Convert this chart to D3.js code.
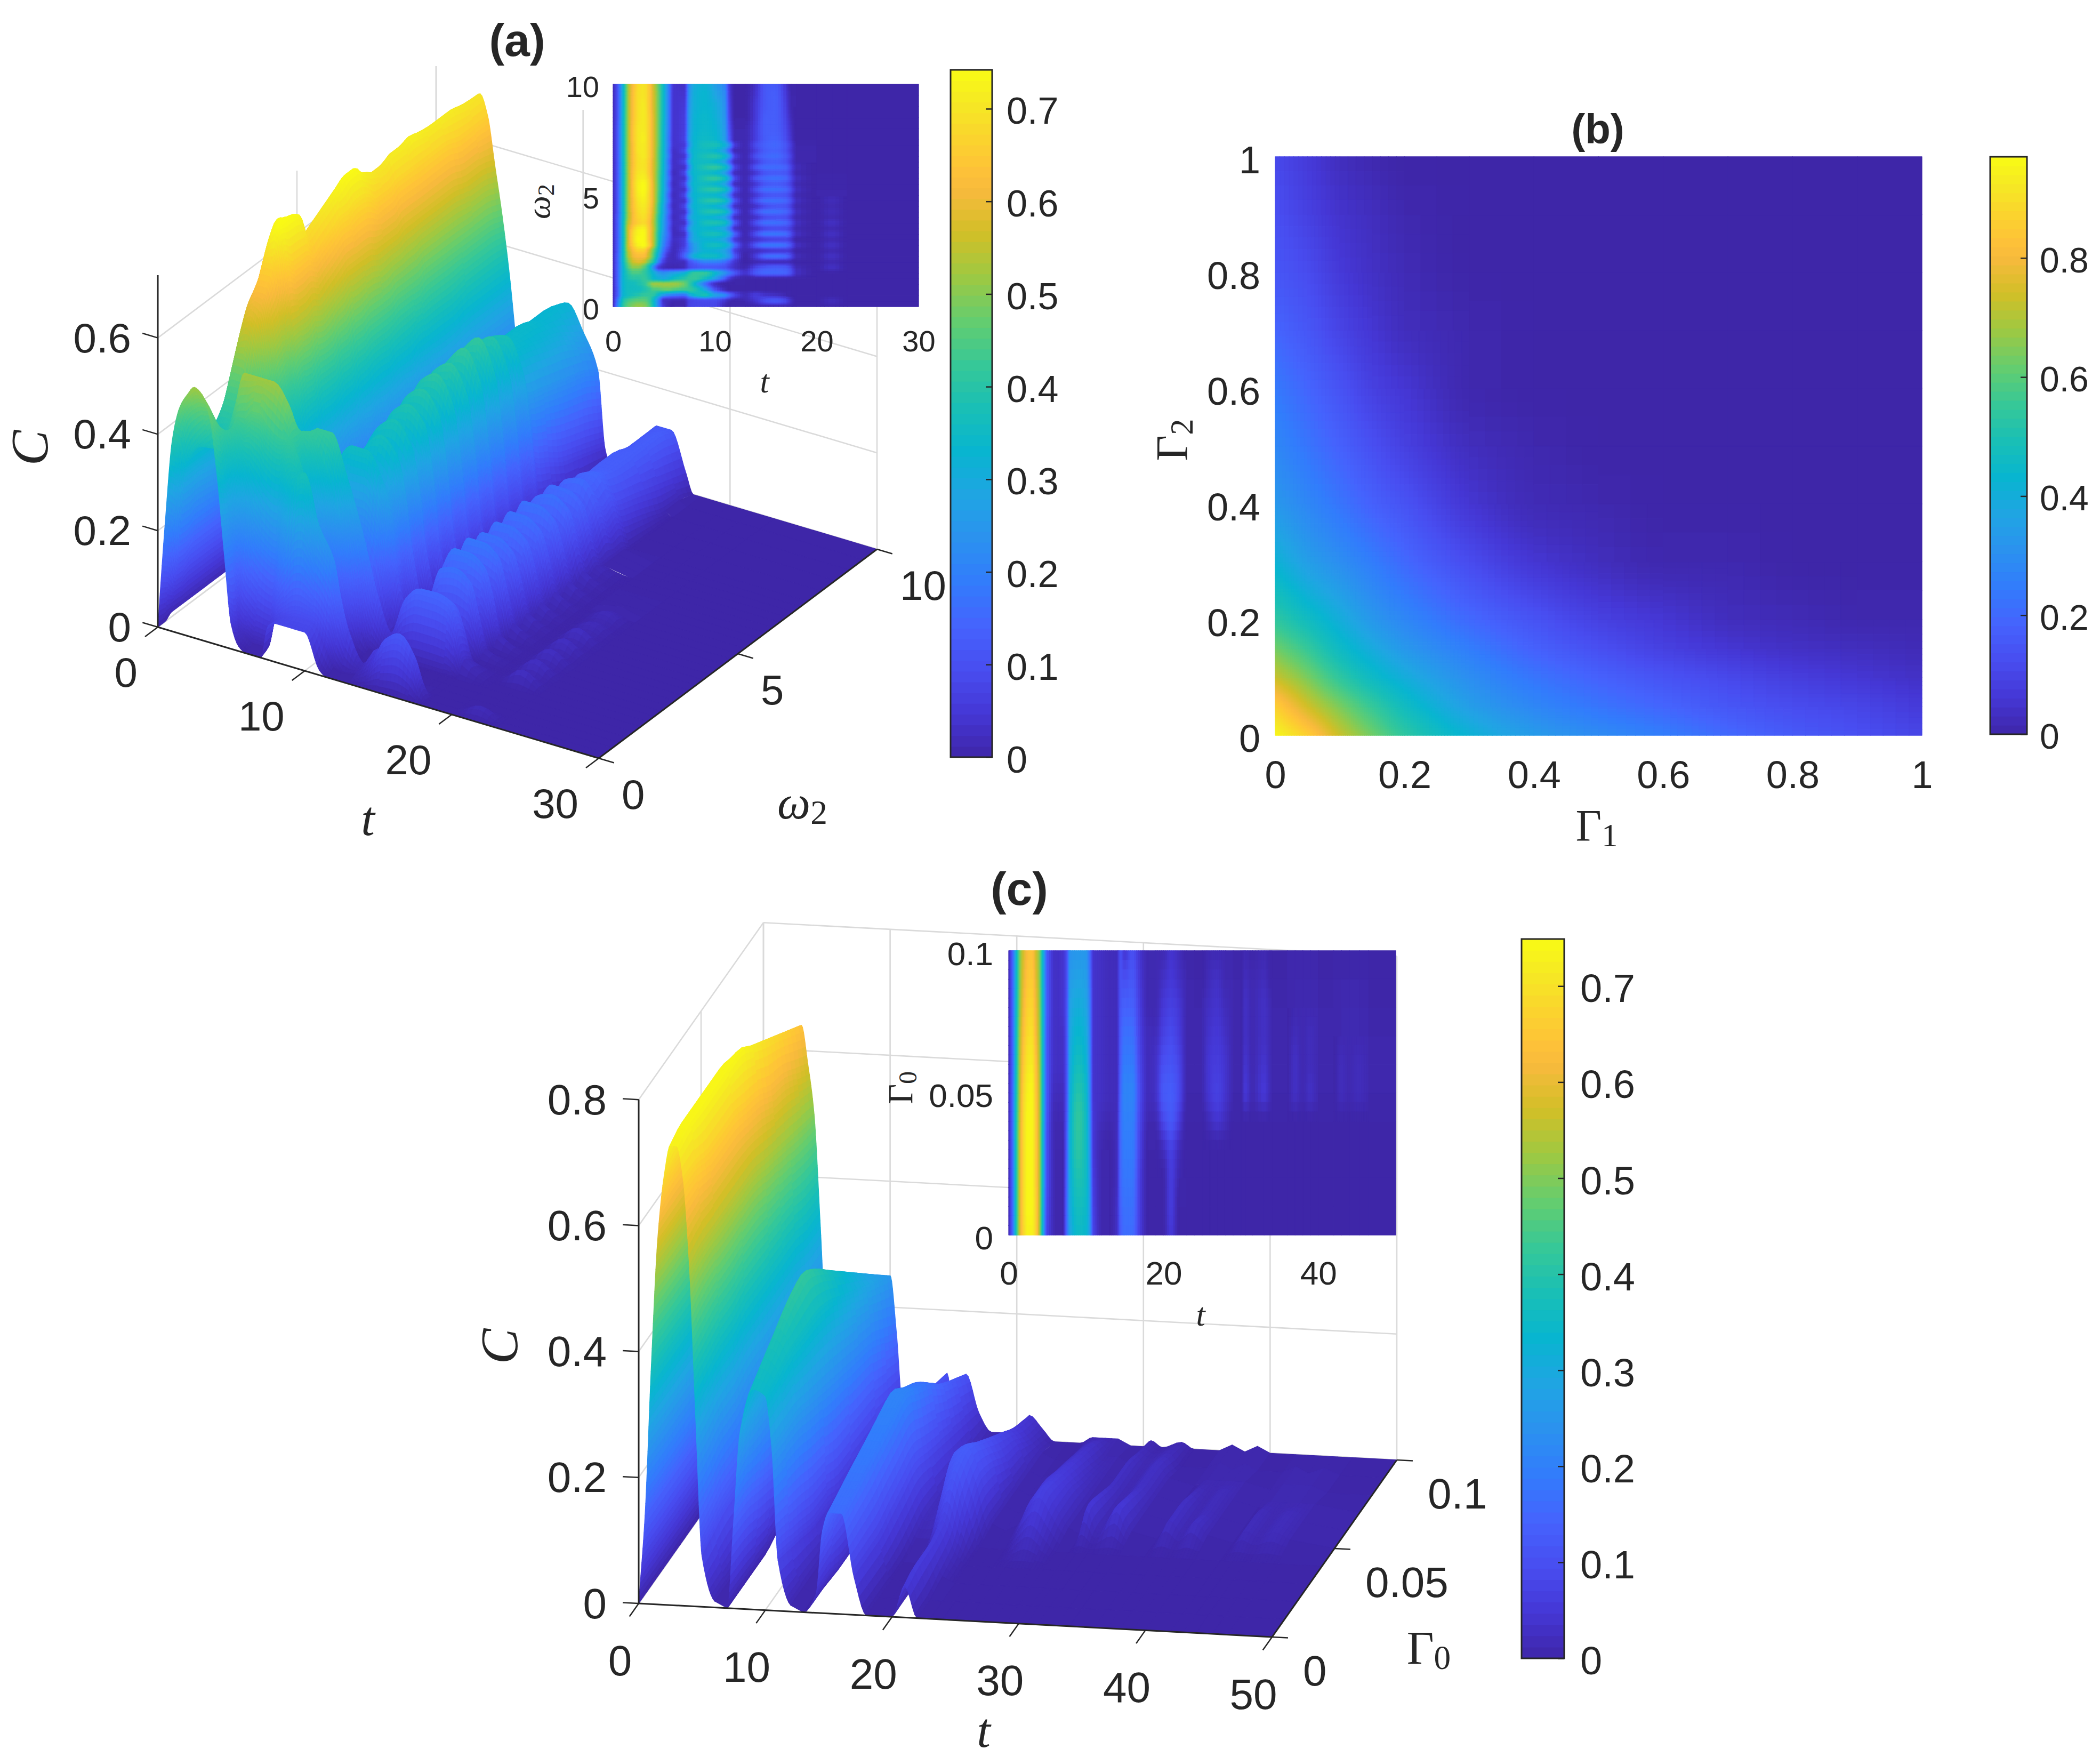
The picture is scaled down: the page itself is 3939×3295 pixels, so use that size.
<!DOCTYPE html>
<html><head><meta charset="utf-8"><style>html,body{margin:0;padding:0;background:#fff}svg{display:block}text{font-family:"Liberation Sans",Arial,sans-serif;fill:#262626}</style>
<script src="https://cdn.jsdelivr.net/npm/d3@7"></script></head><body><div id="c"></div>
<script>
// ---------- DATA (C values in hundredths) ----------
const tA=[0,.5,1,1.5,2,2.5,3,3.5,4,4.5,5,5.5,6,7,7.5,8,9,10,11,11.5,12,13,14,15,16,17,17.5,18,20,21.5,23,30];
const wA=[0,.25,.5,.75,1,1.25,1.5,1.75,2,2.25,2.5,2.75,3,3.25,3.5,3.75,4,4.25,4.5,4.75,5,5.25,5.5,5.75,6,6.25,6.5,6.75,7,7.25,7.5,8,8.5,9,9.5,10];
const cA=[
[0,22,40,47,50,52,51,47,36,20,5,1,0,0,7,8,8,8,1,0,0,0,0,0,0,0,0,0],
[0,20,38,44,46,47,47,44,34,20,3,2,1,1,7,8,9,9,4,1,0,1,4,10,12,8,3,0],
[1,14,32,36,38,40,42,42,40,32,24,20,18,16,26,32,38,28,22,14,8,2,6,4,3,1,0,0],
[1,14,32,36,36,36,38,40,44,44,46,46,44,42,42,40,30,12,2,0,0,0,0,0,0,0,0,0],
[1,15,32,36,36,38,40,46,52,52,52,52,52,48,42,34,18,3,0,0,0,0,0,0,0,0,0,0],
[1,15,32,38,40,40,42,40,34,32,30,32,36,40,42,42,36,26,12,4,1,0,0,0,0,0,0,0],
[1,15,32,40,44,44,42,38,32,26,24,26,28,32,38,42,42,34,24,18,12,4,12,15,15,14,10,3],
[1,15,32,44,50,50,46,38,22,6,2,1,1,2,8,10,12,12,10,6,3,1,8,12,13,12,8,2],
[1,15,34,48,56,58,56,48,38,20,6,2,2,2,10,14,20,20,16,10,4,0,1,2,2,2,1,0],
[1,15,34,52,60,62,62,56,44,28,12,3,2,14,24,32,36,36,30,24,12,0,6,16,17,15,9,2],
[1,14,34,54,62,66,66,58,46,32,16,6,2,10,18,26,32,31,27,20,6,1,2,4,5,5,3,0],
[1,14,34,56,66,72,74,68,54,36,20,10,2,6,18,26,34,37,34,28,16,2,12,18,18,16,11,3],
[1,14,34,56,68,74,74,66,54,38,22,12,3,6,22,30,32,31,27,18,5,1,3,6,7,7,4,0],
[1,14,34,56,68,73,74,66,54,38,24,14,2,3,20,30,36,38,34,27,14,1,10,18,18,16,10,3],
[1,14,34,56,66,72,73,66,55,40,26,12,2,8,26,32,33,31,27,17,3,1,3,8,9,8,5,1],
[1,14,34,54,62,66,68,64,54,40,26,14,3,3,20,30,37,39,36,27,12,1,10,17,17,15,10,3],
[1,14,33,52,62,67,69,65,55,40,27,12,2,7,26,32,33,31,27,17,3,1,3,9,10,9,5,1],
[1,13,33,52,62,68,70,66,56,42,28,15,3,3,20,31,38,40,36,27,12,1,10,17,17,15,10,3],
[1,13,33,52,63,69,71,67,57,42,28,12,2,8,26,33,34,32,27,16,3,1,3,9,11,10,6,1],
[1,13,33,52,63,70,72,68,58,44,30,16,3,3,20,32,39,41,36,26,11,1,10,17,17,15,10,3],
[1,13,33,52,64,71,73,68,58,44,30,13,2,8,27,33,34,33,27,16,3,1,4,10,11,10,6,1],
[1,13,33,52,64,72,74,69,58,45,31,17,3,3,20,33,39,41,36,26,10,1,10,17,17,15,10,3],
[1,13,33,52,65,72,74,69,58,45,31,14,2,8,27,34,35,33,27,15,2,1,4,11,12,10,6,1],
[1,13,33,52,64,71,72,68,57,45,31,18,3,3,21,33,39,42,36,25,9,1,11,16,17,15,9,3],
[1,13,33,52,64,70,71,66,57,45,32,15,2,8,28,34,35,33,26,14,2,1,4,11,12,11,6,1],
[1,13,33,52,63,69,70,66,57,46,32,18,3,3,21,34,39,42,36,25,8,1,11,16,16,14,8,2],
[1,13,33,52,63,69,70,66,57,46,32,16,3,8,28,35,35,33,26,13,2,1,5,12,13,10,5,1],
[1,13,33,52,63,69,71,67,58,46,33,19,3,4,22,34,38,40,34,24,7,1,10,15,16,12,7,1],
[1,13,33,52,63,70,71,67,58,46,33,17,3,8,28,34,35,33,25,12,1,1,6,13,14,10,5,1],
[1,13,33,52,63,70,71,67,58,47,33,19,4,5,23,33,37,38,32,22,6,1,9,14,15,11,6,1],
[1,13,33,52,64,70,72,67,58,47,33,18,4,7,26,33,35,34,26,11,1,1,6,13,14,9,4,0],
[1,13,33,52,64,70,71,67,58,47,33,19,4,6,25,32,34,33,25,9,1,1,6,13,13,8,3,0],
[1,12,33,52,63,69,71,67,58,47,34,19,4,6,25,32,34,32,24,7,0,0,5,13,13,7,2,0],
[1,12,32,52,63,69,71,66,57,47,34,19,4,5,24,31,33,31,23,6,0,0,5,12,13,6,1,0],
[1,12,32,52,63,69,70,66,57,47,34,19,4,4,23,31,33,29,22,5,0,0,4,12,13,5,1,0],
[1,12,32,52,62,68,70,66,56,46,34,19,4,3,22,30,32,27,20,4,0,0,3,12,12,4,0,0]];
const aFaint=[0,2,0,0,0,0,0,3,1,3,1,3,1,3,1,3,1,2,1,2,1,1,0,1,0,0,0,0,0,0,0,0,0,0,0,0];

const g1B=[0,.05,.1,.15,.2,.3,.4,.5,.6,.7,.8,.9,1];
const g2B=[0,.05,.1,.15,.2,.3,.4,.5,.6,.7,.8,.9,1];
const cB=[
[96,86,73,63,54,42,34,29,25,20,16,13,10],
[86,74,64,55,47,35,28,23,19,15,12,10,7],
[73,64,54,46,40,30,23,18,14,11,8,6,4],
[63,55,46,39,33,25,18,13,9,6,4,3,2],
[54,47,40,33,28,20,14,9,6,3,2,1,1],
[42,35,30,25,20,12,6,3,1,1,0,0,0],
[33,28,23,18,14,6,2,1,0,0,0,0,0],
[28,23,18,13,9,3,1,0,0,0,0,0,0],
[24,19,14,9,6,1,0,0,0,0,0,0,0],
[19,15,10,6,3,1,0,0,0,0,0,0,0],
[15,12,7,4,2,0,0,0,0,0,0,0,0],
[13,9,5,3,1,0,0,0,0,0,0,0,0],
[11,7,3,1,0,0,0,0,0,0,0,0,0]];

const tCEarly=[0,.5,1,1.5,2,2.5,3,3.5,4,4.5,5,6,7,7.5,8,9,10,10.5,11,12,13,14,14.5,15,16,17,18,19,20,21,22,23,24];
const tCLate=[25,26,27,28,29,30,30.6,31.5,33,34,36,37,38,39,40,42,43,44,45.3,46.5,50];
const gC=[0,.01,.02,.03,.04,.05,.06,.07,.08,.09,.1];
const cCEarly=[
[0,14,38,58,68,73,73,68,54,30,8,1,0,14,28,35,34,26,8,1,0,3,13,16,16,6,0,0,0,5,0,0,0],
[0,14,38,58,69,74,74,68,55,31,9,1,0,14,30,37,35,26,7,1,0,3,14,17,17,6,0,0,0,6,0,0,0],
[0,14,38,58,69,74,74,67,55,32,10,1,0,13,31,39,36,26,6,1,0,2,15,18,18,6,0,0,0,6,1,0,0],
[0,14,38,58,69,74,74,67,55,32,10,1,0,12,32,41,36,25,5,1,0,2,15,19,19,7,0,0,2,7,2,0,0],
[0,14,38,57,69,74,74,67,55,33,11,1,1,11,32,42,36,24,5,2,1,2,16,20,20,8,1,1,8,12,6,0,0],
[0,14,37,56,68,73,74,66,55,33,12,2,2,10,31,40,35,23,4,3,2,2,15,21,21,9,2,3,12,13,9,1,0],
[0,13,36,55,66,71,72,65,54,33,12,3,3,10,30,37,33,22,4,3,2,2,14,19,19,8,2,3,10,11,8,1,0],
[0,13,35,54,64,69,70,63,53,33,12,3,3,10,29,34,31,21,4,3,2,2,13,17,17,7,2,2,7,9,6,1,0],
[0,13,34,52,62,67,68,62,52,33,13,3,4,10,28,31,29,20,4,3,2,2,12,14,14,6,1,1,5,7,5,1,0],
[0,13,33,51,60,65,66,60,51,32,13,3,4,9,26,28,27,18,4,3,2,2,11,10,12,5,1,1,3,5,3,1,0],
[0,13,32,50,58,63,64,58,50,32,13,3,4,9,24,25,25,16,4,3,2,2,10,4,10,4,1,1,1,4,2,0,0]];
const cCLate=[
[],[],[],[],
[0,2,4,2,0],
[1,5,7,4,1,0,5,1,5,1,0,3,1,3,1,0,2,1,2,1,0],
[1,5,6,4,1,0,4,1,4,1,0,3,1,2,1,0,2,1,2,1,0],
[1,4,5,3,1,0,3,1,3,1,0,2,1,2,1,0,1,1,1,1,0],
[1,3,4,2,1,0,3,1,3,1,0,1,1,1,1,0,1,1,1,0,0],
[0,2,3,1,1,0,2,1,2,0,0,1,0,1,0,0,1,0,1,0,0],
[0,1,1,1,0,0,1,0,1,0,0,1,0,1,0,0,0,0,0,0,0]];

const tTicksA=[0,10,20,30], wTicksA=[0,5,10], cTicksA=[0,.2,.4,.6];
const tTicksC=[0,10,20,30,40,50], gTicksC=[0,.05,.1], cTicksC=[0,.2,.4,.6,.8];
const barTicksA=[0,.1,.2,.3,.4,.5,.6,.7], barTicksB=[0,.2,.4,.6,.8], barTicksC=barTicksA;
const parulaStops=[0,4,8,12,16,20,24,28,32,36,40,44,48,52,54,56,60,63];
const parulaRGB=[[.2422,.1504,.6603],[.2706,.2147,.8364],[.2813,.3006,.9414],[.2699,.3892,.9906],[.1963,.4847,.9892],[.1687,.5703,.9359],[.1248,.6459,.8883],[.0297,.7082,.8163],[.0964,.75,.712],[.2161,.7843,.5923],[.3909,.8029,.4354],[.6174,.7876,.2612],[.8203,.7498,.1535],[.9728,.7298,.2394],[.997,.7659,.2199],[.9892,.8136,.1885],[.9597,.9135,.1423],[.9769,.9839,.0805]];

// ---------- helpers ----------
const pad=(r,n)=>d3.range(n).map(j=>j<r.length?r[j]/100:0);
const gridA=cA.map((r,i)=>{const a=pad(r,tA.length);a[tA.indexOf(21.5)]=aFaint[i]/100;return a;});
const gridB=cB.map(r=>pad(r,g1B.length));
const tC=tCEarly.concat(tCLate);
const gridC=cCEarly.map((r,i)=>pad(r,33).concat(pad(cCLate[i],21)));

const parulaCss=parulaRGB.map(c=>d3.rgb(c[0]*255,c[1]*255,c[2]*255).formatHex());
const parula=max=>d3.scaleLinear().domain(parulaStops.map(s=>s/63*max)).range(parulaCss).interpolate(d3.interpolateRgb).clamp(true);

const svg=d3.select("#c").append("svg").attr("width",3939).attr("height",3295).attr("viewBox","0 0 3939 3295");
svg.append("rect").attr("width",3939).attr("height",3295).attr("fill","#fff");
const INK="#262626",GRID="#dadada";
const line=d3.line();

// monotone (shape-preserving) cubic drawing between the read values, like d3.curveMonotoneX
const limit=(d0,d1)=>d0*d1<=0?0:2*d0*d1/(d0+d1);
function slopes(xs,v){
  const d=d3.range(xs.length-1).map(k=>(v[k+1]-v[k])/(xs[k+1]-xs[k]));
  return xs.map((_,k)=>k===0?d[0]:k===xs.length-1?d[k-1]:limit(d[k-1],d[k]));
}
function herm(h,a,b,ma,mb,p){
  const p2=p*p,p3=p2*p;
  return (2*p3-3*p2+1)*a+(p3-2*p2+p)*h*ma+(-2*p3+3*p2)*b+(p3-p2)*h*mb;
}
function surface(g,xs,ys,grid,project,color,step,desc){
  const quads=[];
  const rows=d3.range(ys.length-1);
  if(desc)rows.reverse();
  const sl=grid.map(r=>slopes(xs,r));
  const rowAt=(r,j,p)=>herm(xs[j+1]-xs[j],grid[r][j],grid[r][j+1],sl[r][j],sl[r][j+1],p);
  const value=(i,j,p,q)=>{
    const a=rowAt(i,j,p),b=rowAt(i+1,j,p);
    const h=ys[i+1]-ys[i],d=(b-a)/h;
    const ma=i>0?limit((a-rowAt(i-1,j,p))/(ys[i]-ys[i-1]),d):d;
    const mb=i+2<ys.length?limit(d,(rowAt(i+2,j,p)-b)/(ys[i+2]-ys[i+1])):d;
    return Math.max(0,herm(h,a,b,ma,mb,q));
  };
  for(const i of rows)for(let j=0;j<xs.length-1;j++){
    const a=grid[i][j],b=grid[i][j+1],c=grid[i+1][j],d=grid[i+1][j+1];
    const dx=Math.max(Math.abs(b-a),Math.abs(d-c)),dy=Math.max(Math.abs(c-a),Math.abs(d-b));
    const big=Math.max(a,b,c,d)>.015;
    const nx=Math.max(big?4:1,Math.ceil(dx/step));
    const ny=Math.max(big?3:1,Math.ceil(dy/step));
    for(let v=ny-1;v>=0;v--)for(let u=0;u<nx;u++){
      const cs=[[u,v],[u+1,v],[u+1,v+1],[u,v+1]];
      const vals=cs.map(k=>value(i,j,k[0]/nx,k[1]/ny));
      const pts=cs.map((k,n)=>project(xs[j]+(xs[j+1]-xs[j])*k[0]/nx,ys[i]+(ys[i+1]-ys[i])*k[1]/ny,vals[n]));
      quads.push({d:line(pts)+"Z",f:color(d3.mean(vals))});
    }
  }
  g.selectAll("path.q").data(quads).join("path").attr("class","q").attr("d",q=>q.d).attr("fill",q=>q.f).attr("stroke",q=>q.f).attr("stroke-width",1.3).attr("stroke-linejoin","round");
}
function mathLabel(x,y,base,sub,size,opt){
  opt=opt||{};
  const t=svg.append("text").attr("text-anchor","middle").attr("dominant-baseline","central")
    .attr("transform",`translate(${x},${y})`+(opt.rot?` rotate(${opt.rot})`:""))
    .style("font-family",'"Liberation Serif","DejaVu Serif",serif').style("font-size",size+"px");
  t.append("tspan").text(base).style("font-style",opt.italic?"italic":"normal");
  if(sub)t.append("tspan").text(sub).attr("dy",size*.22).style("font-size",size*.72+"px");
}
function title(x,y,s,size){svg.append("text").attr("x",x).attr("y",y).attr("text-anchor","middle").attr("dominant-baseline","central").style("font-weight","bold").style("font-size",size+"px").text(s);}
function heat(x0,x1,y0,y1,xd,yd,xs,ys,grid,color,xt,yt,fs,padL,padB,step){
  const X=d3.scaleLinear().domain(xd).range([x0,x1]),Y=d3.scaleLinear().domain(yd).range([y1,y0]);
  const g=svg.append("g");
  surface(g,xs,ys,grid,(u,v)=>[X(u),Y(v)],color,step,false);
  const fmt=d=>String(d);
  const ax=svg.append("g").attr("transform",`translate(0,${y1})`).call(d3.axisBottom(X).tickValues(xt).tickFormat(fmt).tickSize(0).tickPadding(padB));
  const ay=svg.append("g").attr("transform",`translate(${x0},0)`).call(d3.axisLeft(Y).tickValues(yt).tickFormat(fmt).tickSize(0).tickPadding(padL));
  for(const a of [ax,ay]){a.select(".domain").remove();a.selectAll("text").style("font-size",fs+"px").style("font-family",'"Liberation Sans",Arial,sans-serif').attr("fill",INK);}
  ay.selectAll("text").attr("dy",".42em");
}
function colorbar(x0,x1,y0,y1,max,color,ticks,fs,pad){
  const Y=d3.scaleLinear().domain([0,max]).range([y1,y0]);
  const g=svg.append("g");
  const lv=d3.range(64).map(i=>i/64*max);
  g.selectAll("rect").data(lv).join("rect").attr("x",x0).attr("width",x1-x0)
    .attr("y",d=>Y(d+max/64)-.6).attr("height",(y1-y0)/64+1.2).attr("fill",d=>color(d+max/128));
  g.append("rect").attr("x",x0).attr("y",y0).attr("width",x1-x0).attr("height",y1-y0).attr("fill","none").attr("stroke",INK).attr("stroke-width",3);
  const a=svg.append("g").attr("transform",`translate(${x1},0)`).call(d3.axisRight(Y).tickValues(ticks).tickFormat(d=>String(d)).tickSizeInner(-12).tickSizeOuter(0).tickPadding(pad));
  a.select(".domain").remove();
  a.selectAll("line").attr("stroke",INK).attr("stroke-width",2.5);
  a.selectAll("text").style("font-size",fs+"px").style("font-family",'"Liberation Sans",Arial,sans-serif').attr("fill",INK).attr("dy",".4em");
}
function plot3d(o){
  const Tx=d3.scaleLinear().domain(o.td).range([0,o.tv[0]]),Ty=d3.scaleLinear().domain(o.td).range([0,o.tv[1]]);
  const Wx=d3.scaleLinear().domain(o.wd).range([0,o.wv[0]]),Wy=d3.scaleLinear().domain(o.wd).range([0,o.wv[1]]);
  const Z=d3.scaleLinear().domain([0,1]).range([0,o.zk]);
  const P=(t,w,c)=>[o.o[0]+Tx(t)+Wx(w),o.o[1]+Ty(t)+Wy(w)-Z(c)];
  const gl=svg.append("g").attr("fill","none").attr("stroke",GRID).attr("stroke-width",2.6);
  const seg=(g,a,b,c,s)=>g.append("path").attr("d",line([a,b])).attr("stroke",c||GRID).attr("stroke-width",s||2.6);
  const T1=o.td[1],W1=o.wd[1];
  o.ct.forEach(c=>{seg(gl,P(0,0,c),P(0,W1,c));seg(gl,P(0,W1,c),P(T1,W1,c));});
  o.wt.forEach(w=>{seg(gl,P(0,w,0),P(0,w,o.top));seg(gl,P(0,w,0),P(T1,w,0));});
  o.tt.forEach(t=>{seg(gl,P(t,W1,0),P(t,W1,o.top));seg(gl,P(t,0,0),P(t,W1,0));});
  surface(svg.append("g"),o.ts,o.ws,o.grid,P,o.color,.012,true);
  const ax=svg.append("g").attr("fill","none");
  seg(ax,P(0,0,0),P(0,0,o.top),INK,3);seg(ax,P(0,0,0),P(T1,0,0),INK,3);seg(ax,P(T1,0,0),P(T1,W1,0),INK,3);
  const unit=(v,l)=>{const n=Math.hypot(v[0],v[1]);return [v[0]/n*l,v[1]/n*l];};
  const tk=o.tick,dT=unit(o.wv,tk),dW=unit(o.tv,tk),dC=unit(o.tv,tk);
  const lab=(x,y,s,anchor)=>svg.append("text").attr("x",x).attr("y",y).attr("text-anchor",anchor).attr("dominant-baseline","central").style("font-size",o.fs+"px").text(s);
  o.tt.forEach(t=>{const p=P(t,0,0);seg(ax,p,[p[0]-dT[0],p[1]-dT[1]],INK,2.5);lab(p[0]+o.tl[0],p[1]+o.tl[1],t,o.tl[2]);});
  o.wt.forEach(w=>{const p=P(T1,w,0);seg(ax,p,[p[0]+dW[0],p[1]+dW[1]],INK,2.5);lab(p[0]+o.wl[0],p[1]+o.wl[1],w,"start");});
  o.ct.forEach(c=>{const p=P(0,0,c);seg(ax,p,[p[0]-dC[0],p[1]-dC[1]],INK,2.5);lab(p[0]+o.cl,p[1],c,"end");});
}

// ---------- panel (a) ----------
const colA=parula(.742);
plot3d({o:[296,1176],tv:[827,246],wv:[522,-392],td:[0,30],wd:[0,10],zk:904,top:.73,grid:gridA,ts:tA,ws:wA,color:colA,
  tt:tTicksA,wt:wTicksA,ct:cTicksA,tick:30,fs:78,tl:[-38,85,"end"],wl:[43,68],cl:-50});
heat(1150,1723,158,575,[0,30],[0,10],tA,wA,gridA,colA,tTicksA,wTicksA,56,26,44,.025);
title(970,75,"(a)",86);
mathLabel(55,840,"C",null,100,{italic:true,rot:-90});
mathLabel(690,1535,"t",null,92,{italic:true});
mathLabel(1505,1505,"ω","2",88,{italic:true});
mathLabel(1434,715,"t",null,62,{italic:true});
mathLabel(1010,378,"ω","2",62,{italic:true,rot:-90});
colorbar(1783,1861,131,1420,.742,colA,barTicksA,70,27);

// ---------- panel (b) ----------
const colB=parula(.97);
heat(2392,3605,294,1379,[0,1],[0,1],g1B,g2B,gridB,colB,[0,.2,.4,.6,.8,1],[0,.2,.4,.6,.8,1],72,28,48,.006);
title(2997,242,"(b)",78);
mathLabel(2995,1548,"Γ","1",84);
mathLabel(2198,825,"Γ","2",84,{rot:-90});
colorbar(3733,3802,294,1377,.97,colB,barTicksB,66,24);

// ---------- panel (c) ----------
const colC=parula(.749);
plot3d({o:[1198,3007],tv:[1188,63],wv:[234,-332],td:[0,50],wd:[0,.1],zk:1181,top:.8,grid:gridC,ts:tC,ws:gC,color:colC,
  tt:tTicksC,wt:gTicksC,ct:cTicksC,tick:30,fs:80,tl:[-35,107,"middle"],wl:[58,63],cl:-60});
heat(1892,2618,1783,2316,[0,50],[0,.1],tC,gC,gridC,colC,[0,20,40],[0,.05,.1],62,29,49,.025);
title(1912,1666,"(c)",88);
mathLabel(936,2525,"C",null,100,{italic:true,rot:-90});
mathLabel(1845,3245,"t",null,92,{italic:true});
mathLabel(2680,3090,"Γ","0",88);
mathLabel(2252,2465,"t",null,62,{italic:true});
mathLabel(1688,2040,"Γ","0",66,{rot:-90});
colorbar(2854,2934,1761,3110,.749,colC,barTicksC,74,30);
</script></body></html>
